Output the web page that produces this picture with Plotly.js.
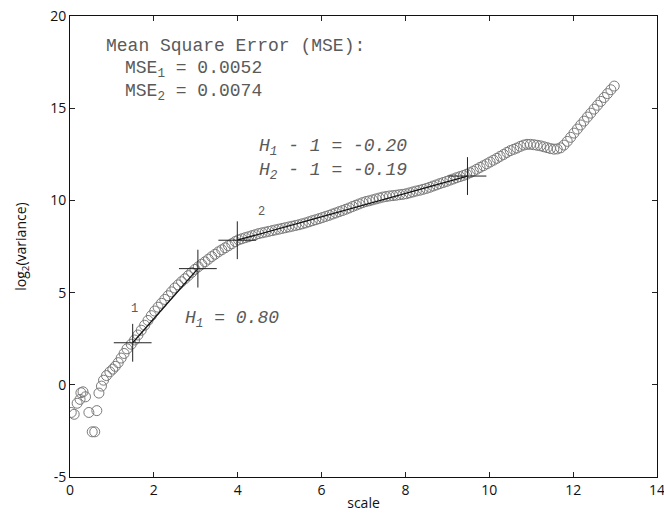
<!DOCTYPE html>
<html>
<head>
<meta charset="utf-8">
<script src="https://cdn.plot.ly/plotly-3.0.1.min.js"></script>
<style>html,body{margin:0;padding:0;background:#fff;}#chart{width:664px;height:523px;}</style>
</head>
<body>
<div id="chart"></div>
<script>
// scale values (x) of the variance estimates
const scaleVals = [
  0.03,0.10,0.17,0.24,0.26,0.31,0.37,0.45,0.53,0.59,0.64,0.69,0.75,0.80,0.87,0.95,1.02,1.08,1.15,1.22,1.29,1.36,
  1.46,1.54,1.62,1.70,1.78,1.86,1.94,2.02,2.10,2.18,2.26,2.34,2.42,2.50,2.58,2.66,2.74,2.82,2.90,2.98,
  3.06,3.14,3.22,3.30,3.38,3.46,3.54,3.62,3.70,3.78,3.86,3.94,4.02,4.10,4.18,4.26,4.34,4.42,4.50,4.58,
  4.66,4.74,4.82,4.90,4.98,5.06,5.14,5.22,5.30,5.38,5.46,5.54,5.62,5.70,5.78,5.86,5.94,6.02,6.10,6.18,
  6.26,6.34,6.42,6.50,6.58,6.66,6.74,6.82,6.90,6.98,7.06,7.14,7.22,7.30,7.38,7.46,7.54,7.62,7.70,7.78,
  7.86,7.94,8.02,8.10,8.18,8.26,8.34,8.42,8.50,8.58,8.66,8.74,8.82,8.90,8.98,9.06,9.14,9.22,9.30,9.38,
  9.46,9.54,9.62,9.70,9.78,9.86,9.94,10.02,10.10,10.18,10.26,10.34,10.42,10.50,10.58,10.66,10.74,10.82,
  10.90,10.98,11.06,11.14,11.22,11.30,11.38,11.46,11.54,11.62,11.70,11.78,11.86,11.94,12.02,12.10,12.18,
  12.26,12.34,12.42,12.50,12.58,12.66,12.74,12.82,12.90,12.98
];
// log2(variance) values (y)
const log2Var = [
  -1.50,-1.60,-1.00,-0.79,-0.43,-0.38,-0.65,-1.50,-2.55,-2.55,-1.40,-0.45,-0.07,0.25,0.50,0.70,0.85,1.00,1.20,1.45,1.70,1.95,
  2.20,2.43,2.70,2.96,3.23,3.49,3.75,4.00,4.21,4.42,4.63,4.83,5.04,5.25,5.42,5.59,5.75,5.92,6.09,6.26,
  6.40,6.54,6.67,6.81,6.95,7.08,7.21,7.32,7.43,7.54,7.65,7.77,7.86,7.92,7.98,8.03,8.09,8.14,8.20,8.24,
  8.28,8.32,8.36,8.40,8.44,8.48,8.52,8.56,8.60,8.64,8.68,8.73,8.78,8.84,8.90,8.95,9.01,9.07,9.13,9.19,
  9.26,9.32,9.39,9.45,9.52,9.59,9.67,9.74,9.81,9.88,9.94,9.98,10.03,10.08,10.13,10.18,10.21,10.24,10.26,10.28,
  10.31,10.33,10.36,10.41,10.46,10.51,10.55,10.60,10.65,10.71,10.78,10.84,10.91,10.97,11.03,11.10,11.16,11.23,11.29,11.35,
  11.42,11.50,11.59,11.69,11.79,11.88,11.98,12.08,12.18,12.28,12.39,12.49,12.60,12.70,12.77,12.84,12.93,13.00,
  13.04,13.04,13.02,12.99,12.96,12.91,12.86,12.81,12.78,12.79,12.85,13.00,13.20,13.42,13.65,13.87,14.09,
  14.30,14.52,14.73,14.95,15.16,15.37,15.58,15.79,16.00,16.20
];
// breakpoints (crosses) and fitted segments
const breakX = [1.495, 3.05, 3.99, 9.48];
const breakY = [2.28, 6.30, 7.84, 11.32];
const fit1X = [1.495, 3.05];
const fit1Y = [2.28, 6.30];
const fit2X = [3.99, 9.48];
const fit2Y = [7.84, 11.32];
// text labels
const mseTitle = 'Mean Square Error (MSE):';
const mse1 = 'MSE<sub>1</sub> = 0.0052';
const mse2 = 'MSE<sub>2</sub> = 0.0074';
const hLabel1 = '<i>H<sub>1</sub> = 0.80</i>';
const hLabel2a = '<i>H<sub>1</sub> - 1 = -0.20</i>';
const hLabel2b = '<i>H<sub>2</sub> - 1 = -0.19</i>';
const xTicks = [0,2,4,6,8,10,12,14];
const yTicks = [-5,0,5,10,15,20];

const mono = 'Liberation Mono, Courier New, monospace';
const sans = 'Open Sans, Lato, Arial, sans-serif';
const txtCol = '#5a5a5a';

const traces = [
  {x: scaleVals, y: log2Var, type: 'scatter', mode: 'markers',
   marker: {symbol: 'circle-open', size: 10, color: '#7a7a7a', line: {width: 1, color: '#7a7a7a'}},
   hoverinfo: 'skip'},
  {x: fit1X, y: fit1Y, type: 'scatter', mode: 'lines', line: {color: '#111', width: 1.3}},
  {x: fit2X, y: fit2Y, type: 'scatter', mode: 'lines', line: {color: '#111', width: 1.3}},
  {x: breakX, y: breakY, type: 'scatter', mode: 'markers',
   marker: {symbol: 'cross-thin-open', size: 27, color: '#222', line: {width: 1, color: '#222'}}}
];

const ann = (x, y, text, size, opts) => Object.assign({
  x: x, y: y, xref: 'x', yref: 'y', text: text, showarrow: false,
  xanchor: 'left', yanchor: 'middle', font: {family: mono, size: size, color: txtCol}
}, opts || {});

const layout = {
  width: 664, height: 523,
  margin: {l: 70, r: 7, t: 16, b: 46},
  paper_bgcolor: '#fff', plot_bgcolor: '#fff',
  showlegend: false,
  xaxis: {range: [0, 14], tickvals: xTicks, ticktext: xTicks.map(String),
    ticks: 'inside', ticklen: 5, tickcolor: '#222', mirror: 'ticks', showline: true,
    linecolor: '#111', linewidth: 1, showgrid: false, zeroline: false,
    ticklabeloverflow: 'allow',
    tickfont: {family: sans, size: 14, color: '#111'},
    title: {text: 'scale', font: {family: sans, size: 14, color: '#111'}, standoff: 0}},
  yaxis: {range: [-5, 20], tickvals: yTicks, ticktext: yTicks.map(String),
    ticks: 'inside', ticklen: 5, tickcolor: '#222', mirror: 'ticks', showline: true,
    linecolor: '#111', linewidth: 1, showgrid: false, zeroline: false,
    ticklabeloverflow: 'allow',
    tickfont: {family: sans, size: 14, color: '#111'},
    title: {text: 'log<sub>2</sub>(variance)', font: {family: sans, size: 14, color: '#111'}, standoff: 20}},
  annotations: [
    ann(0.81, 18.4, mseTitle, 18),
    ann(1.26, 17.1, mse1, 18),
    ann(1.26, 15.85, mse2, 18),
    ann(2.70, 3.55, hLabel1, 18),
    ann(4.45, 12.85, hLabel2a, 18),
    ann(4.45, 11.55, hLabel2b, 18),
    ann(1.55, 4.1, '1', 12, {xanchor: 'center'}),
    ann(4.57, 9.37, '2', 12, {xanchor: 'center'})
  ]
};

Plotly.newPlot('chart', traces, layout, {displayModeBar: false, staticPlot: true});
</script>
</body>
</html>
